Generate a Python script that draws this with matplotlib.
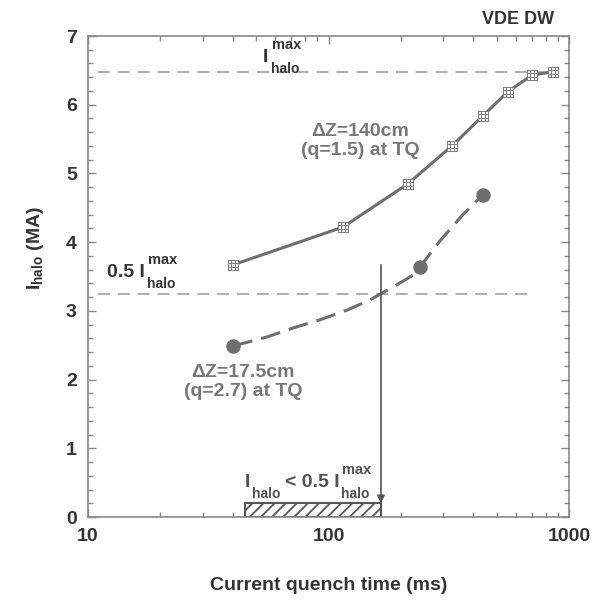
import numpy as np
import matplotlib.pyplot as plt
from matplotlib.path import Path

plt.rcParams['font.family'] = ['Liberation Sans', 'DejaVu Sans']
plt.rcParams['font.weight'] = 'bold'
plt.rcParams['axes.labelweight'] = 'bold'
plt.rcParams['mathtext.fontset'] = 'custom'
plt.rcParams['mathtext.rm'] = 'Liberation Sans:bold'
plt.rcParams['mathtext.bf'] = 'Liberation Sans:bold'
plt.rcParams['mathtext.it'] = 'Liberation Sans:bold'
plt.rcParams['hatch.linewidth'] = 1.3

# Halo current vs current quench time, dZ = 140 cm (q=1.5) at TQ
tq_140 = [40.1, 115, 214, 326, 439, 557, 701, 857]
ih_140 = [3.67, 4.22, 4.85, 5.40, 5.84, 6.19, 6.43, 6.48]

# dZ = 17.5 cm (q=2.7) at TQ
tq_17 = [40.1, 240, 439]
ih_17 = [2.49, 3.64, 4.69]

# dashed trend curve through the 17.5 cm points
trend_x = [40.1, 44.5, 55.5, 71.1, 92.2, 119.4, 148.8, 165.3, 192.7, 224.6, 240, 291, 362, 439]
trend_y = [2.49, 2.53, 2.62, 2.75, 2.87, 3.01, 3.16, 3.25, 3.38, 3.52, 3.64, 4.02, 4.40, 4.69]

i_max = 6.48
tq_cross = 165.3       # where the trend crosses 0.5*I_max
tq_window = [45, tq_cross]

line_col = '#6e6e6e'
dark = '#333333'

# square marker with a grid inside
s = 1.0 / 3
verts = [(-1, -1), (1, -1), (1, 1), (-1, 1), (-1, -1),
         (-s, -1), (-s, 1), (s, -1), (s, 1),
         (-1, -s), (1, -s), (-1, s), (1, s)]
codes = [Path.MOVETO, Path.LINETO, Path.LINETO, Path.LINETO, Path.CLOSEPOLY,
         Path.MOVETO, Path.LINETO, Path.MOVETO, Path.LINETO,
         Path.MOVETO, Path.LINETO, Path.MOVETO, Path.LINETO]
grid_marker = Path(verts, codes)

fig = plt.figure(figsize=(5.94, 6.01), dpi=100)
ax = fig.add_axes([88/594, 1-517/601, (569-88)/594, (517-36)/601])
ax.set_xscale('log')
ax.set_xlim(10, 1000)
ax.set_ylim(0, 7)
renderer = fig.canvas.get_renderer()


def right_edge(t):
    # data x of the right edge of a text object
    bb = t.get_window_extent(renderer)
    return ax.transData.inverted().transform((bb.x1, bb.y0))[0]


def sub_sup(x, y, color, sup=True, gap=2):
    # "halo" below the baseline, optionally "max" above it
    t1 = ax.annotate('halo', (x, y), xytext=(gap, -11), textcoords='offset pixels',
                     fontsize=10, color=color, ha='left', va='baseline')
    ends = [right_edge(t1)]
    if sup:
        t2 = ax.annotate('max', (x, y), xytext=(gap + 1, 13), textcoords='offset pixels',
                         fontsize=10.5, color=color, ha='left', va='baseline')
        ends.append(right_edge(t2))
    return max(ends)


# reference levels
ax.plot([11, 800], [i_max, i_max], color='#999999', lw=1.1, dashes=(7.8, 5.2), zorder=1)
ax.plot([11, 680], [0.5*i_max, 0.5*i_max], color='#999999', lw=1.1, dashes=(7.8, 5.2), zorder=1)

# dZ = 140 cm
ax.plot(tq_140, ih_140, '-', color=line_col, lw=2.2, zorder=3)
ax.plot(tq_140, ih_140, ls='none', marker='s', ms=7.5, mfc='white', mec='none', zorder=4)
ax.plot(tq_140, ih_140, ls='none', marker=grid_marker, ms=7.5, mfc='none',
        mec='#808080', mew=0.8, zorder=5)

# dZ = 17.5 cm
ax.plot(trend_x, trend_y, color=line_col, lw=2.2, dashes=(6.5, 3.0), zorder=3)
ax.plot(tq_17, ih_17, ls='none', marker='o', ms=9.4, color=line_col, zorder=4)

# window where I_halo < 0.5 I_max
ax.bar(tq_window[0], 0.2, width=tq_window[1]-tq_window[0], align='edge',
       facecolor='white', edgecolor='#555555', hatch='///', lw=1.5, zorder=2)
ax.annotate('', xy=(tq_cross, 0.2), xytext=(tq_cross, 3.67),
            arrowprops=dict(arrowstyle='-|>', color='#555555', lw=1.2,
                            mutation_scale=11, shrinkA=0, shrinkB=0), zorder=6)

# I_halo^max labels
t = ax.text(53.5, 6.62, 'I', fontsize=14, color=dark, ha='left', va='baseline')
sub_sup(right_edge(t), 6.62, dark)

t = ax.text(12.0, 3.49, '0.5 I', fontsize=14, color=dark, ha='left', va='baseline')
sub_sup(right_edge(t), 3.49, dark)

t = ax.text(45, 0.44, 'I', fontsize=14, color='#505050', ha='left', va='baseline')
xe = sub_sup(right_edge(t), 0.44, '#505050', sup=False)
t = ax.annotate('< 0.5 I', (xe, 0.44), xytext=(4, 0), textcoords='offset pixels',
                fontsize=14, color='#505050', ha='left', va='baseline')
sub_sup(right_edge(t), 0.44, '#505050')

ax.text(136, 5.47, 'ΔZ=140cm\n(q=1.5) at TQ', fontsize=14, color='#777777',
        ha='center', va='center', linespacing=1.15)
ax.text(44.1, 1.97, 'ΔZ=17.5cm\n(q=2.7) at TQ', fontsize=14, color='#777777',
        ha='center', va='center', linespacing=1.15)

ax.set_yticks(np.arange(0, 8, 1))
ax.set_yticks(np.arange(0, 7.01, 0.2), minor=True)
ax.set_xticks([10, 100, 1000])
ax.set_xticklabels(['10', '100', '1000'])
ax.tick_params(which='both', direction='in', top=True, right=True, color='#888888',
               labelsize=14, labelcolor=dark)
ax.tick_params(which='major', length=6, width=1.0, pad=8)
ax.tick_params(which='minor', length=3.6, width=1.0)
for sp in ax.spines.values():
    sp.set_color('#888888')
    sp.set_linewidth(1.2)

ax.set_xlabel('Current quench time (ms)', fontsize=14, color=dark, fontweight='bold')
ax.xaxis.set_label_coords(0.5, -0.125)
ax.text(-0.110, 0.559, r'$\mathrm{I}_{\mathrm{halo}}$ (MA)', transform=ax.transAxes,
        rotation=90, fontsize=14, color=dark, ha='center', va='center')

fig.text(518/594, 1-19.5/601, 'VDE DW', fontsize=13, color=dark, ha='center', va='center')

fig.savefig('out.png', dpi=100)
